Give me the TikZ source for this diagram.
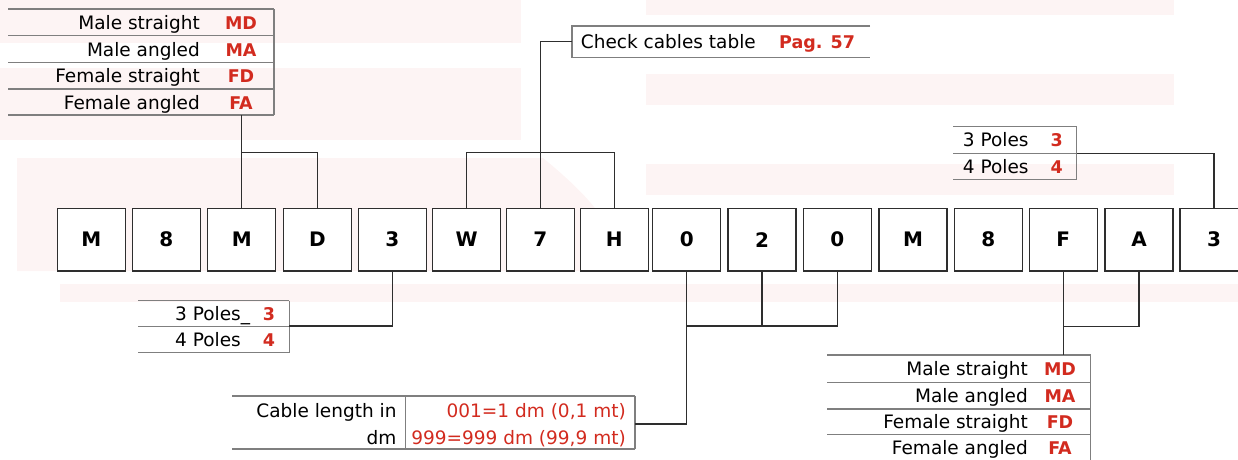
\documentclass[tikz,border=0pt]{standalone}
\usepackage{fontspec}
\setmainfont{DejaVu Sans}
\usetikzlibrary{positioning,calc}
\definecolor{CodeRed}{HTML}{D22B1F}
\definecolor{Rule}{HTML}{7F7F7F}
\definecolor{Wire}{HTML}{2E2E2E}
\definecolor{Mark}{HTML}{FDF4F4}

\begin{document}
\begin{tikzpicture}[x=1pt,y=-1pt,
  digit/.style={draw=Wire,line width=1.4pt,fill=white,minimum width=68pt,minimum height=62.7pt,inner sep=0pt,font=\fontsize{20}{24}\selectfont\bfseries},
  lbl/.style={anchor=base east,inner sep=0pt,font=\fontsize{18.5}{22}\selectfont},
  code/.style={anchor=base,inner sep=0pt,text=CodeRed,font=\fontsize{17.5}{22}\selectfont\bfseries},
  rule/.style={draw=Rule,line width=1.3pt},
  wire/.style={draw=Wire,line width=1.2pt}]
\useasboundingbox (0,0) rectangle (1238,459);
% watermark behind everything
\fill[Mark] (0,0) rectangle (521,43);
\fill[Mark] (0,68) rectangle (521,140);
\fill[Mark] (646,0) rectangle (1174,15);
\fill[Mark] (646,74) rectangle (1174,105);
\fill[Mark] (646,164) rectangle (1174,195);
\fill[Mark] (17,158) -- (543,158) .. controls (570,180) and (590,200) .. (600,215) -- (600,271) -- (17,271) -- cycle;
\fill[Mark] (60,284) rectangle (1238,302);
% code boxes
\foreach \n/\c/\x in {1/M/91.3,2/8/166.3,3/M/241.7,4/D/317.3,5/3/392.3,6/W/466.7,7/7/540.3,8/H/614.3,9/0/686.7,10/2/762,11/0/837.3,12/M/913,13/8/988.3,14/F/1063.3,15/A/1139,16/3/1214}
  \node[digit] (b\n) at (\x,239.7) {\c};
% connector table, top left
\foreach \y in {9,35.7,62.3,89,115} \draw[rule] (8,\y) -- (274,\y);
\draw[rule] (274,9) -- (274,115);
\foreach \y/\t/\k in {22.3/Male straight/MD,49/Male angled/MA,75.7/Female straight/FD,102/Female angled/FA} {
  \node[lbl] (tl\k) at (200,\y+7) {\t};
  \node[code] (tc\k) at (241,\y+7) {\k};
}
\coordinate (tlOut) at (240,115);
\draw[wire] (b3.north |- tlOut) -- (b3.north);
\draw[wire] (b3.north |- 0,152.3) -| (b4.north);
% cables table
\draw[rule] (870,26) -- (572,26) -- (572,57.3) -- (870,57.3);
\node[lbl,anchor=base west] (cbl) at (580.7,48.7) {Check cables table};
\node[code,anchor=base west] (cpg) at (779,48.7) {Pag. 57};
\coordinate (cblIn) at (572,41.7);
\draw[wire] (b7.north) |- (cblIn);
\draw[wire] (b6.north) -- (b6.north |- 0,152.5) -| (b8.north);
% poles table, top right
\foreach \y in {126.7,153.3,179.3} \draw[rule] (953.3,\y) -- (1076.7,\y);
\draw[rule] (1076.7,126.7) -- (1076.7,179.3);
\foreach \y/\p in {140/3,166.3/4} {
  \node[lbl,anchor=base west] (pr\p) at (962.7,\y+6.7) {\p{} Poles};
  \node[code] (prc\p) at (1056.7,\y+6.7) {\p};
}
\coordinate (prOut) at (1076.7,153.3);
\draw[wire] (prOut) -| (b16.north);
% poles table, bottom left
\foreach \y in {300.7,326.7,352.7} \draw[rule] (138.3,\y) -- (289.3,\y);
\draw[rule] (289.3,300.7) -- (289.3,352.7);
\node[lbl] (pl3) at (241,320.5) {3 Poles\rlap{\_}};
\node[code] (plc3) at (269,320.5) {3};
\node[lbl] (pl4) at (241,346.5) {4 Poles};
\node[code] (plc4) at (269,346.5) {4};
\coordinate (plOut) at (289.3,326);
\draw[wire] (plOut) -| (b5.south);
% cable length table
\draw[rule] (232.3,396) -- (635,396);
\draw[rule] (232.3,449) -- (635,449);
\draw[rule] (405.7,396) -- (405.7,449);
\draw[rule] (635,396) -- (635,449);
\node[lbl] (len1) at (396.7,417.3) {Cable length in};
\node[lbl] (len2) at (396.7,444.3) {dm};
\node[lbl,text=CodeRed] (lenv1) at (626,417.3) {001=1 dm (0,1 mt)};
\node[lbl,text=CodeRed] (lenv2) at (626,444.3) {999=999 dm (99,9 mt)};
\coordinate (lenOut) at (635,424);
\draw[wire] (lenOut) -| (b9.south);
\draw[wire] (b9.south |- 0,326) -| (b11.south);
\draw[wire] (b10.south) -- (b10.south |- 0,326);
% connector table, bottom right
\foreach \y in {355,382.3,409,434.3,461} \draw[rule] (827.3,\y) -- (1090.7,\y);
\draw[rule] (1090.7,355) -- (1090.7,461);
\foreach \y/\t/\k in {368.7/Male straight/MD,395.7/Male angled/MA,421.7/Female straight/FD,447.5/Female angled/FA} {
  \node[lbl] (bl\k) at (1028,\y+7) {\t};
  \node[code] (bc\k) at (1060,\y+7) {\k};
}
\coordinate (brIn) at (b14.south |- 0,355);
\draw[wire] (b14.south) -- (brIn);
\draw[wire] (b14.south |- 0,326.7) -| (b15.south);
\end{tikzpicture}
\end{document}
